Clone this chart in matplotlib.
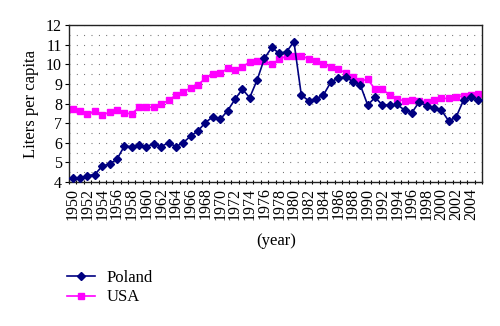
import numpy as np
import matplotlib
matplotlib.use("Agg")
from matplotlib import pyplot as plt

plt.rcParams["font.family"] = ["Liberation Serif", "DejaVu Serif"]
plt.rcParams["lines.scale_dashes"] = False

# per capita consumption, one value per year 1950..2005
years = list(range(1950, 2006))
poland = [4.21, 4.19, 4.33, 4.38, 4.81, 4.92, 5.16, 5.83, 5.80, 5.91,
          5.80, 5.96, 5.80, 6.01, 5.80, 6.01, 6.34, 6.61, 7.03, 7.32,
          7.19, 7.63, 8.21, 8.73, 8.30, 9.19, 10.30, 10.86, 10.55, 10.64,
          11.15, 8.43, 8.14, 8.24, 8.43, 9.09, 9.30, 9.36, 9.11, 8.94,
          7.92, 8.31, 7.92, 7.92, 7.95, 7.66, 7.54, 8.09, 7.87, 7.78,
          7.66, 7.10, 7.32, 8.17, 8.31, 8.17]
usa = [7.71, 7.61, 7.48, 7.61, 7.41, 7.56, 7.68, 7.51, 7.48, 7.80,
       7.83, 7.80, 7.97, 8.16, 8.43, 8.60, 8.79, 8.96, 9.28, 9.50,
       9.53, 9.79, 9.69, 9.87, 10.11, 10.18, 10.18, 9.99, 10.25, 10.42,
       10.44, 10.44, 10.27, 10.15, 9.99, 9.87, 9.74, 9.57, 9.36, 9.14,
       9.24, 8.72, 8.72, 8.43, 8.22, 8.14, 8.17, 8.12, 8.10, 8.17,
       8.26, 8.26, 8.34, 8.39, 8.43, 8.46]
year_labels = [str(y) for y in years[::2]]

fig = plt.figure(figsize=(5.0, 3.26), dpi=100)
ax = fig.add_axes([0.138, 0.4417, 0.826, 0.4816])

x = np.arange(len(years))
ax.plot(x, poland, color="#000080", lw=1.2, marker="D", ms=4.0,
        label="Poland", zorder=3)
ax.plot(x, usa, color="#ff00ff", lw=1.2, marker="s", ms=5.0,
        label="USA", zorder=2)

ax.set_xlim(-0.5, len(years) - 0.5)
ax.set_ylim(4, 12)

# category axis: labels on every other year, tick marks between years
ax.set_xticks(x[::2])
ax.set_xticklabels(year_labels, rotation=90, fontsize=11.5)
ax.set_xticks(np.arange(-0.5, len(years)), minor=True)
ax.tick_params(axis="x", which="major", length=0, pad=4)
ax.tick_params(axis="x", which="minor", length=3, direction="inout", width=0.8)

ax.set_yticks(range(4, 13))
ax.set_yticks(np.arange(4.5, 12, 1.0), minor=True)
ax.tick_params(axis="y", which="major", length=3, direction="out", width=0.8,
               labelsize=11.5, pad=2)
ax.tick_params(axis="y", which="minor", length=0)

# dotted gridlines every half litre
grid_style = dict(color="#555555", linewidth=0.8, linestyle=(0, (0.6, 4.7)))
ax.yaxis.grid(True, which="both", **grid_style)
ax.set_axisbelow(True)

for side in ax.spines.values():
    side.set_linewidth(1.0)
    side.set_color("#222222")

ax.set_ylabel("Liters per capita", fontsize=12, labelpad=5)
fig.text(0.552, 1 - 241 / 326, "(year)", ha="center", va="center", fontsize=12)

fig.legend(loc="upper left", bbox_to_anchor=(67 / 500, 1 - 270 / 326),
           frameon=False, fontsize=12, handlelength=1.7, handletextpad=0.7,
           labelspacing=0.2, borderpad=0, borderaxespad=0)

fig.savefig("out.png", dpi=100)
